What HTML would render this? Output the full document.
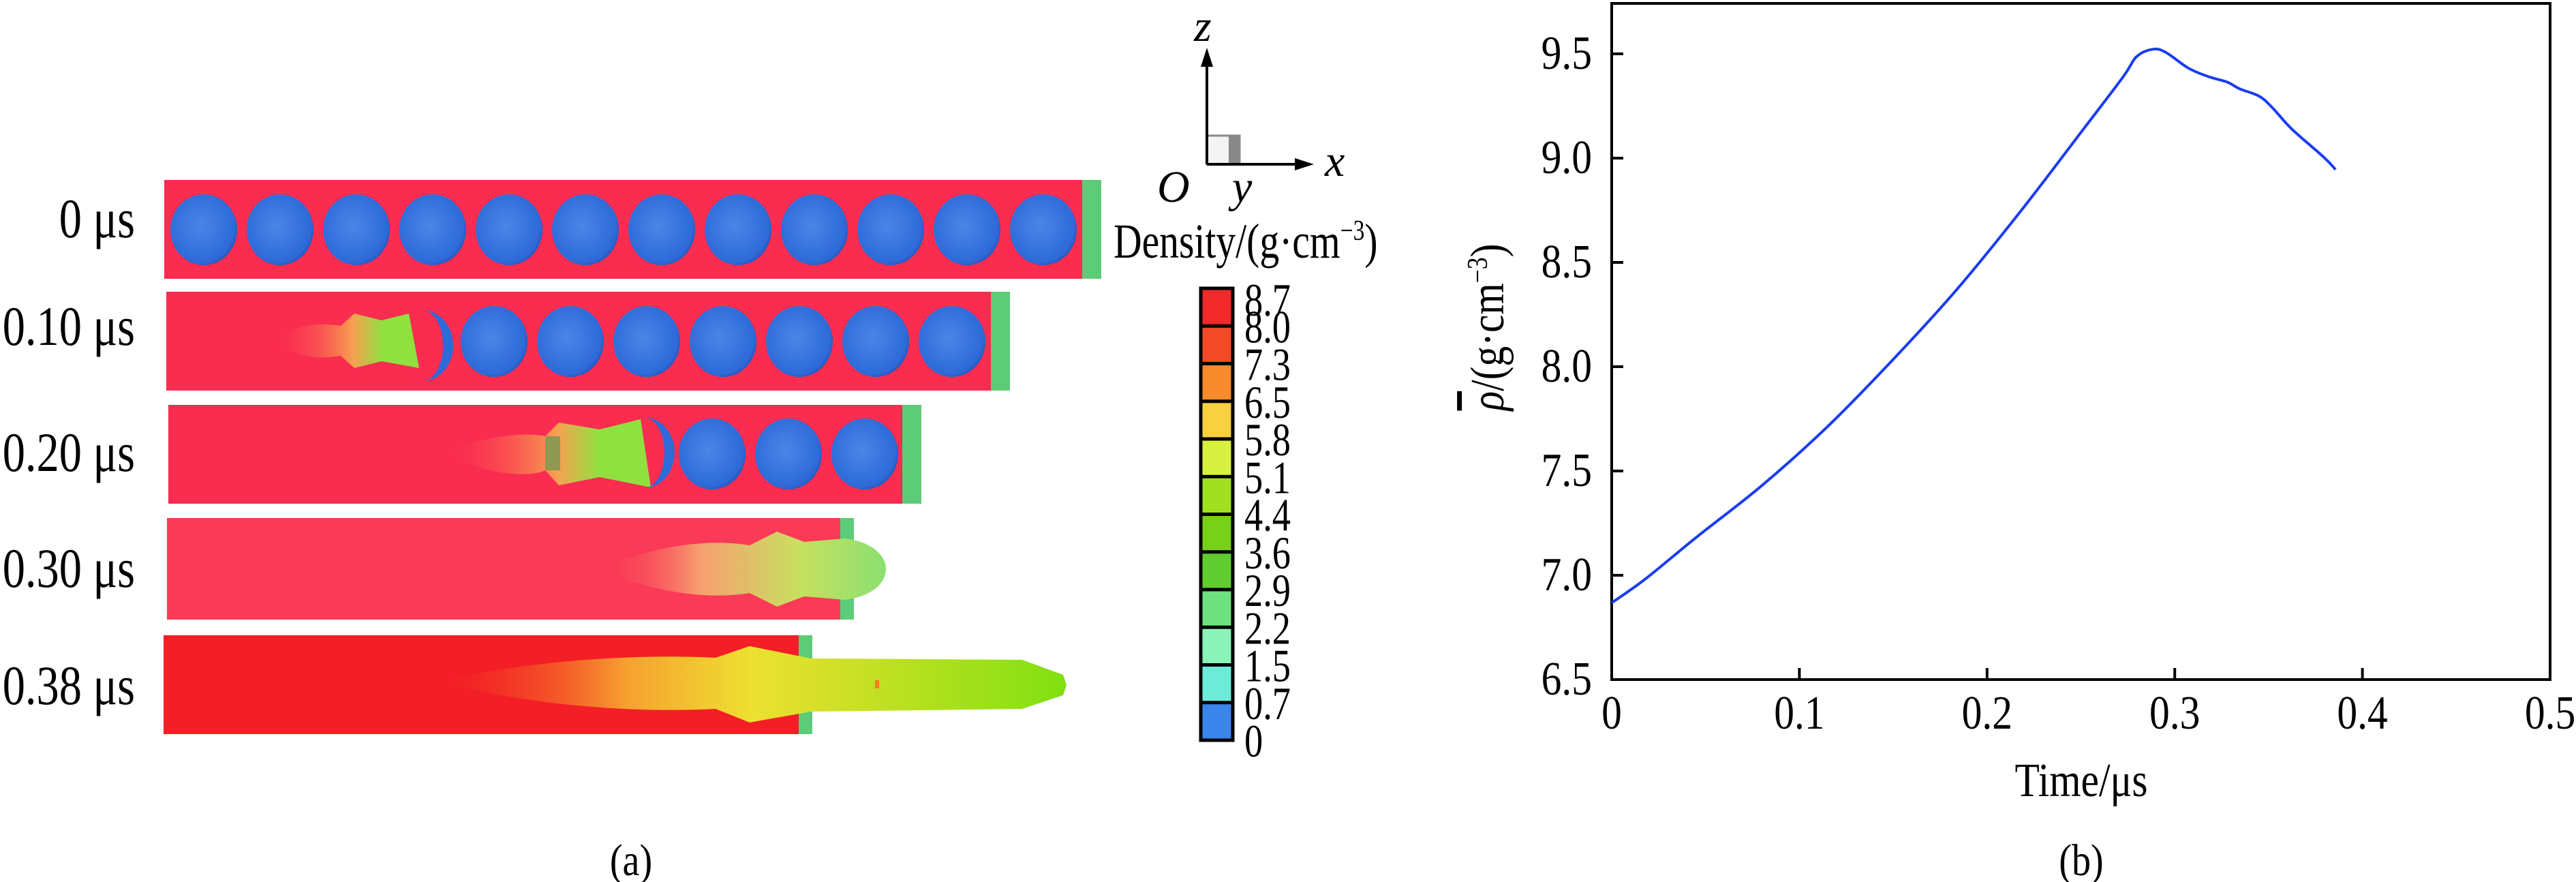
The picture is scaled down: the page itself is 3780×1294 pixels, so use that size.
<!DOCTYPE html>
<html><head><meta charset="utf-8"><style>
html,body{margin:0;padding:0;background:#fff;}
svg{display:block;font-family:"Liberation Serif",serif;}
</style></head><body>
<svg id="root" width="3780" height="1294" viewBox="0 0 3780 1294" xmlns="http://www.w3.org/2000/svg">
<defs>
<radialGradient id="cg" cx="0.45" cy="0.45" r="0.6"><stop offset="0" stop-color="#4a86e8"/><stop offset="0.85" stop-color="#2e6ad8"/><stop offset="1" stop-color="#1d4fb8"/></radialGradient>
<linearGradient id="jet1" x1="0" x2="1"><stop offset="0" stop-color="#fa3050" stop-opacity="0"/><stop offset="0.55" stop-color="#f8a050"/><stop offset="0.75" stop-color="#90e040"/><stop offset="1" stop-color="#90e040"/></linearGradient>
<linearGradient id="jet3" x1="0" x2="1"><stop offset="0" stop-color="#fa3a56" stop-opacity="0"/><stop offset="0.35" stop-color="#f6a070"/><stop offset="0.7" stop-color="#c8e060"/><stop offset="1" stop-color="#8ae070"/></linearGradient>
<linearGradient id="jet4" x1="0" x2="1"><stop offset="0" stop-color="#f03020" stop-opacity="0"/><stop offset="0.3" stop-color="#f6a030"/><stop offset="0.5" stop-color="#eee030"/><stop offset="1" stop-color="#80e010"/></linearGradient>
</defs>

<g>
 <g font-size="82" text-anchor="end">
  <text transform="translate(198,348) scale(0.81,1)">0 μs</text>
  <text transform="translate(198,506) scale(0.81,1)">0.10 μs</text>
  <text transform="translate(198,691) scale(0.81,1)">0.20 μs</text>
  <text transform="translate(198,861) scale(0.81,1)">0.30 μs</text>
  <text transform="translate(198,1033) scale(0.81,1)">0.38 μs</text>
 </g>
 <g>
  <rect x="241" y="264" width="1350" height="145" fill="#fa2c50"/>
  <rect x="1588" y="264" width="28" height="145" fill="#5ccc78"/>
  <g id="r0"></g>
 </g>
 <g>
  <rect x="244" y="428" width="1212" height="145" fill="#fa2c50"/>
  <rect x="1454" y="428" width="28" height="145" fill="#5ccc78"/>
  <path d="M400 500 C440 470 480 475 500 478 L520 460 L560 470 L600 460 L615 540 L560 530 L520 540 L500 522 C480 525 440 530 400 500Z" fill="url(#jet1)"/>
  <path d="M620 455 a45 52 0 0 1 0 104 a30 52 0 0 0 0 -104Z" fill="#2e6ad8"/>
  <g id="r1"></g>
 </g>
 <g>
  <rect x="247" y="594" width="1080" height="145" fill="#fa2c50"/>
  <rect x="1324" y="594" width="28" height="145" fill="#5ccc78"/>
  <path d="M650 665 C720 635 780 635 800 640 L820 620 L880 630 L940 615 L955 715 L880 700 L820 712 L800 690 C780 700 720 700 650 665Z" fill="url(#jet1)"/>
  <rect x="800" y="640" width="22" height="50" fill="#909850"/>
  <path d="M945 612 a45 52 0 0 1 0 104 a30 52 0 0 0 0 -104Z" fill="#2e6ad8"/>
  <g id="r2"></g>
 </g>
 <g>
  <rect x="245" y="760" width="990" height="149" fill="#fa3a56"/>
  <path d="M1233 760 L1253 760 L1253 909 L1233 909Z" fill="#5ccc78"/>
  <path d="M880 835 C960 800 1040 790 1100 800 L1140 780 L1180 795 L1240 790 C1320 800 1320 870 1240 880 L1180 875 L1140 890 L1100 870 C1040 880 960 870 880 835Z" fill="url(#jet3)"/>
 </g>
 <g>
  <rect x="240" y="932" width="935" height="145" fill="#f41e26"/>
  <rect x="1172" y="932" width="20" height="145" fill="#5ccc78"/>
  <path d="M640 1000 C800 965 950 960 1050 965 L1100 948 L1190 966 L1500 968 L1560 990 L1565 1005 L1560 1020 L1500 1040 L1190 1044 L1100 1060 L1050 1040 C950 1045 800 1040 640 1000Z" fill="url(#jet4)"/>
  <rect x="1284" y="998" width="6" height="12" fill="#f08020"/>
 </g>
 <g stroke="#000" stroke-width="4" fill="none">
  <rect x="1771" y="199" width="48" height="42" stroke="#888" stroke-width="3" fill="#f4f4f4"/>
  <rect x="1803" y="199" width="16" height="42" stroke="none" fill="#888"/>
  <line x1="1771" y1="241" x2="1771" y2="95"/>
  <line x1="1771" y1="241" x2="1905" y2="241"/>
  <path d="M1762 98 L1771 70 L1780 98Z" fill="#000" stroke="none"/>
  <path d="M1900 232 L1928 241 L1900 250Z" fill="#000" stroke="none"/>
 </g>
 <g font-size="66" font-style="italic">
  <text x="1752" y="60">z</text>
  <text x="1944" y="258">x</text>
  <text x="1698" y="296">O</text>
  <text x="1808" y="296">y</text>
 </g>
 <text transform="translate(1634,378) scale(0.8,1)" font-size="72">Density/(g·cm<tspan font-size="42" dy="-26">−3</tspan><tspan dy="26">)</tspan></text>
 <g>
  <g id="cbsegs"></g>
  <rect x="1762" y="423" width="47" height="663" fill="none" stroke="#000" stroke-width="5"/>
  <g id="cbticks"></g>
 </g>
 <text transform="translate(926,1284) scale(0.85,1)" font-size="66" text-anchor="middle">(a)</text>
</g>

<g>
 <rect x="2365" y="5" width="1377" height="992" fill="none" stroke="#000" stroke-width="4"/>
 <g id="xticks"></g>
 <g id="yticks"></g>
 <path id="curve" fill="none" stroke="#1a3cf0" stroke-width="4"/>
 <text transform="translate(3054,1168) scale(0.85,1)" font-size="70" text-anchor="middle">Time/μs</text>
 <text transform="translate(2206,480) rotate(-90) scale(0.85,1)" font-size="70" text-anchor="middle"><tspan font-style="italic" text-decoration="overline">ρ</tspan>/(g·cm<tspan font-size="42" dy="-24">−3</tspan><tspan dy="24">)</tspan></text>
 <text transform="translate(3054,1284) scale(0.85,1)" font-size="66" text-anchor="middle">(b)</text>
</g>
</svg>
<script>
const timeVals=[0,0.0179,0.0455,0.0799,0.1143,0.1488,0.1832,0.2176,0.2521,0.2727,0.2796,0.2882,0.2951,0.3072,0.3175,0.3278,0.3347,0.3450,0.3519,0.3623,0.3795,0.3857];
const densityVals=[6.868,6.982,7.185,7.429,7.707,8.024,8.363,8.742,9.148,9.392,9.486,9.522,9.508,9.432,9.392,9.365,9.332,9.297,9.243,9.140,9.004,8.945];
const xTickVals=[0,0.1,0.2,0.3,0.4,0.5];
const xTickLabels=["0","0.1","0.2","0.3","0.4","0.5"];
const yTickVals=[6.5,7.0,7.5,8.0,8.5,9.0,9.5];
const yTickLabels=["6.5","7.0","7.5","8.0","8.5","9.0","9.5"];
const cbLabels=["8.7","8.0","7.3","6.5","5.8","5.1","4.4","3.6","2.9","2.2","1.5","0.7","0"];
const cbColors=["#f02a2a","#f24a26","#f78a2a","#f8d040","#d8f040","#a0e020","#78d018","#60cc30","#6ee080","#8af4b8","#6cecd8","#3a84ea","#0a3ce4"];
const NS="http://www.w3.org/2000/svg";
function X(t){return 2365+(t/0.5)*1377;}
function Y(v){return 997-(v-6.5)/3*918;}
function mk(tag,attrs,parent){const e=document.createElementNS(NS,tag);for(const k in attrs)e.setAttribute(k,attrs[k]);parent.appendChild(e);return e;}
const xg=document.getElementById('xticks');
xTickVals.forEach((t,i)=>{
 const l=mk('line',{x1:X(t),x2:X(t),y1:997,y2:980,stroke:'#000','stroke-width':4},xg);
 
 
 const tx=mk('text',{transform:'translate('+X(t)+',1069) scale(0.85,1)','font-size':70,'text-anchor':'middle'},xg);
 tx.textContent=xTickLabels[i];
 
 
});
const yg=document.getElementById('yticks');
yTickVals.forEach((v,i)=>{
 const l=mk('line',{x1:2365,x2:2382,y1:Y(v),y2:Y(v),stroke:'#000','stroke-width':4},yg);
 
 
 const tx=mk('text',{transform:'translate(2336,'+(Y(v)+22)+') scale(0.85,1)','font-size':70,'text-anchor':'end'},yg);
 tx.textContent=yTickLabels[i];
 
 
});
(function(){
 const p=timeVals.map((t,i)=>[X(t),Y(densityVals[i])]);
 let d='M'+p[0][0].toFixed(1)+' '+p[0][1].toFixed(1);
 for(let i=0;i<p.length-1;i++){
  const p0=p[Math.max(i-1,0)],p1=p[i],p2=p[i+1],p3=p[Math.min(i+2,p.length-1)];
  const c1=[p1[0]+(p2[0]-p0[0])/6,p1[1]+(p2[1]-p0[1])/6];
  const c2=[p2[0]-(p3[0]-p1[0])/6,p2[1]-(p3[1]-p1[1])/6];
  d+=' C'+c1[0].toFixed(1)+' '+c1[1].toFixed(1)+' '+c2[0].toFixed(1)+' '+c2[1].toFixed(1)+' '+p2[0].toFixed(1)+' '+p2[1].toFixed(1);
 }
 document.getElementById('curve').setAttribute('d',d);
})();
const cs=document.getElementById('cbsegs');
const cb=document.getElementById('cbticks');
const segH=663/12;
for(let i=0;i<12;i++){
 const r=mk('rect',{x:1762,y:423+i*segH,width:47,height:segH+1,fill:cbColors[i]},cs);
 
 
}
cbLabels.forEach((s,i)=>{
 const y=423+i*segH;
 if(i>0&&i<12){const l=mk('line',{x1:1762,x2:1809,y1:y,y2:y,stroke:'#000','stroke-width':5},cb);
 
 }
 const tx=mk('text',{transform:'translate(1826,'+(y+(i==0?40:i==12?24:24))+') scale(0.8,1)','font-size':68},cb);
 tx.textContent=s;
 
 
});
function circles(id,cx0,n,cy){const g=document.getElementById(id);for(let i=0;i<n;i++){const c=mk('ellipse',{cx:cx0+i*112,cy:cy,rx:49,ry:52,fill:'url(#cg)'},g);
 
 }}
circles('r0',299,12,337);
circles('r1',725,7,501);
circles('r2',1045,3,666);
</script>
</body></html>
